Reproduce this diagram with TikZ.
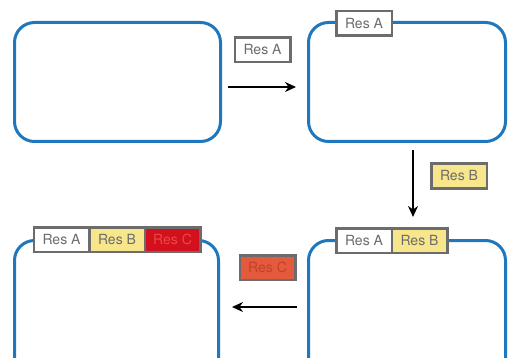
\documentclass[tikz,border=0pt]{standalone}
\usepackage{fontspec}
\setmainfont{TeX Gyre Heros}
\usetikzlibrary{positioning,arrows.meta}
\definecolor{paneblue}{RGB}{31,120,190}
\definecolor{taggray}{RGB}{108,108,108}
\definecolor{resyellow}{RGB}{248,230,140}
\definecolor{resred}{RGB}{210,16,30}
\definecolor{resredtext}{RGB}{236,70,70}
\definecolor{resorange}{RGB}{228,90,60}
\definecolor{resorangetext}{RGB}{196,64,44}
\begin{document}
\begin{tikzpicture}
    [ x=1pt, y=-1pt
    , pane/.style={draw=paneblue,line width=3pt,rounded corners=20pt,shape=rectangle,minimum width=197pt,minimum height=119pt}
    , tag/.style={draw=taggray,line width=2.5pt,fill=white,text=taggray,minimum width=55.5pt,minimum height=24.5pt,inner sep=0pt,outer sep=0pt,font=\fontsize{14}{15}\selectfont}
    , resb/.style={fill=resyellow}
    , resc/.style={fill=resred,text=resredtext}
    , fresh/.style={fill=resorange,text=resorangetext}
    , move/.style={-{Stealth[length=11pt,width=10pt]},line width=2pt}
    ]
    \path [use as bounding box, clip] (0,0) rectangle (508,358);
    % the four panes
    \node [pane, minimum width=206pt] (p1) at (117.5,82) {};
    \node [pane] (p2) at (407,82) {};
    \node [pane, minimum width=204pt, minimum height=158pt] (p3) at (116.5,319.5) {};
    \node [pane, minimum height=158pt] (p4) at (407,319.5) {};
    % resources on the panes
    \node [tag] (p2a) at (364,23.5) {Res A};
    \node [tag] (p4a) at (364,240.5) {Res A};
    \node [tag, resb, right=0pt of p4a] (p4b) {Res B};
    \node [tag] (p3a) at (61.5,239.5) {Res A};
    \node [tag, resb, right=0pt of p3a] (p3b) {Res B};
    \node [tag, resc, right=0pt of p3b] (p3c) {Res C};
    % resources on the move
    \node [tag] (ma) at (262.5,50) {Res A};
    \node [tag, resb] (mb) at (459,176) {Res B};
    \node [tag, fresh] (mc) at (267.5,267.5) {Res C};
    \draw [move] ([xshift=6pt,yshift=-5pt]p1.east) -- ([xshift=-11pt,yshift=-5pt]p2.west);
    \draw [move] ([xshift=6pt,yshift=-7pt]p2.south) -- ([xshift=6pt,yshift=22pt]p4.north);
    \draw [move] ([xshift=-10pt,yshift=12.5pt]p4.west) -- ([xshift=12pt,yshift=12.5pt]p3.east);
\end{tikzpicture}
\end{document}
